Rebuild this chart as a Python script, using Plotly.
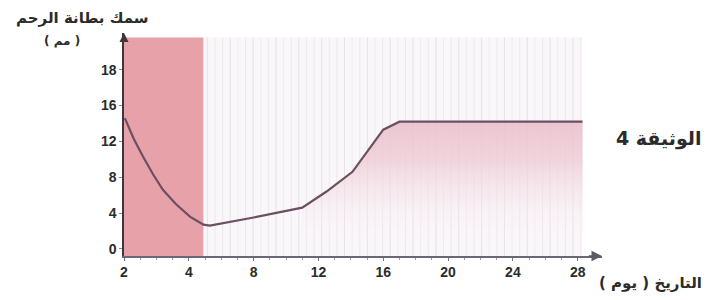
import plotly.graph_objects as go

# Data
days = [0.05, 0.6, 1.17, 1.8, 2.4, 3.2, 4.07, 4.9, 5.3, 8.0, 11.0, 12.5, 14.1, 16.0, 17.0, 28.3]
thickness = [14.6, 12.3, 10.3, 8.3, 6.6, 5.0, 3.6, 2.7, 2.6, 3.5, 4.6, 6.4, 8.6, 13.3, 14.2, 14.2]

x_tickvals = [0, 4, 8, 12, 16, 20, 24, 28]
x_ticktext = ["2", "4", "8", "12", "16", "20", "24", "28"]
y_tickvals = [0, 4, 8, 12, 16, 20]
y_ticktext = ["0", "4", "8", "12", "16", "18"]

menses_end = 4.9
shade_top = 23.6
plot_end = 28.3

X_RANGE = [0, 29.5]
Y_RANGE = [-0.8, 24.1]

AR_FONT = "DejaVu Sans"
NUM_FONT = "Liberation Sans"
DARK = "#2b2b2b"

L, R, T, B = 124, 111, 33, 44
PW, PH = 713 - L - R, 300 - T - B


def px(xp):
    return (xp - L) / PW


def py(yp):
    return 1 - (yp - T) / PH


fig = go.Figure()

# light background of the right part
fig.add_shape(type="rect", x0=menses_end, x1=plot_end, y0=Y_RANGE[0], y1=shade_top,
              fillcolor="rgba(250,247,250,1)", line_width=0, layer="below")
# faint vertical stripes
for i in range(0, 60):
    xv = menses_end + 0.25 + i * 0.47
    if xv > plot_end:
        break
    col = ["rgba(214,208,216,0.55)", "rgba(232,226,232,0.6)", "rgba(222,214,222,0.45)"][i % 3]
    fig.add_shape(type="line", x0=xv, x1=xv, y0=Y_RANGE[0], y1=shade_top,
                  line=dict(color=col, width=1), layer="below")

# menstruation band
fig.add_shape(type="rect", x0=0, x1=menses_end, y0=Y_RANGE[0], y1=shade_top,
              fillcolor="#e6a1a9", line_width=0, layer="below")

# pink fill beneath the curve (right part)
fx = [d for d in days if d >= 11.0]
fy = [t for d, t in zip(days, thickness) if d >= 11.0]
fig.add_trace(go.Scatter(
    x=fx, y=fy, mode="lines", line=dict(width=0), fill="tozeroy",
    fillgradient=dict(type="vertical",
                      colorscale=[[0, "rgba(250,247,250,0)"], [0.4, "rgba(244,225,231,0.5)"],
                                  [0.7, "rgba(238,203,213,0.8)"], [1, "rgba(234,192,204,0.9)"]]),
    hoverinfo="skip", showlegend=False))

# curve
fig.add_trace(go.Scatter(x=days, y=thickness, mode="lines",
                         line=dict(color="#6a5060", width=2.2), showlegend=False,
                         hoverinfo="skip"))

# axis arrowheads
fig.add_annotation(x=29.5, y=Y_RANGE[0], ax=28.5, ay=Y_RANGE[0], xref="x", yref="y",
                   axref="x", ayref="y", showarrow=True, arrowhead=2, arrowsize=1.4,
                   arrowwidth=1.5, arrowcolor="#5c5a66", text=" ")
fig.add_annotation(x=0, y=24.1, ax=0, ay=22.5, xref="x", yref="y",
                   axref="x", ayref="y", showarrow=True, arrowhead=2, arrowsize=1.2,
                   arrowwidth=1.5, arrowcolor="#3e363c", text=" ")

fig.update_xaxes(range=X_RANGE, tickvals=x_tickvals, ticktext=x_ticktext,
                 showgrid=False, zeroline=False, showline=True, linecolor="#6a6874",
                 linewidth=1.5,
                 ticks="outside", ticklen=3, tickcolor="#777",
                 minor=dict(ticks="outside", dtick=1, ticklen=2, tickcolor="#999"),
                 tickfont=dict(family=NUM_FONT, size=14, color=DARK, weight="bold"),
                 fixedrange=True)
fig.update_yaxes(range=Y_RANGE, tickvals=y_tickvals, ticktext=y_ticktext,
                 showgrid=False, zeroline=False, showline=True, linecolor="#3e363c",
                 linewidth=1.6,
                 ticks="outside", ticklen=3, tickcolor="#888",
                 tickfont=dict(family=NUM_FONT, size=14, color=DARK, weight="bold"),
                 fixedrange=True)

# texts
fig.add_annotation(text="<b>سمك بطانة الرحم</b>", xref="paper", yref="paper",
                   x=px(14), y=py(18), xanchor="left", yanchor="middle",
                   showarrow=False, font=dict(family=AR_FONT, size=15, color=DARK))
fig.add_annotation(text="<b>( مم )</b>", xref="paper", yref="paper",
                   x=px(62), y=py(41), xanchor="center", yanchor="middle",
                   showarrow=False, font=dict(family=AR_FONT, size=12, color=DARK))
fig.add_annotation(text="<b>الوثيقة 4</b>", xref="paper", yref="paper",
                   x=px(614), y=py(138), xanchor="left", yanchor="middle",
                   showarrow=False, font=dict(family=AR_FONT, size=19, color=DARK))
fig.add_annotation(text="<b>التاريخ ( يوم )</b>", xref="paper", yref="paper",
                   x=px(597), y=py(283), xanchor="left", yanchor="middle",
                   showarrow=False, font=dict(family=AR_FONT, size=15, color=DARK))

fig.update_layout(width=713, height=300,
                  margin=dict(l=L, r=R, t=T, b=B, autoexpand=False),
                  paper_bgcolor="white", plot_bgcolor="white",
                  showlegend=False)

fig.write_html("out.html", config={"displayModeBar": False, "staticPlot": True},
               post_script="document.body.style.margin='0';document.body.style.overflow='hidden';")
